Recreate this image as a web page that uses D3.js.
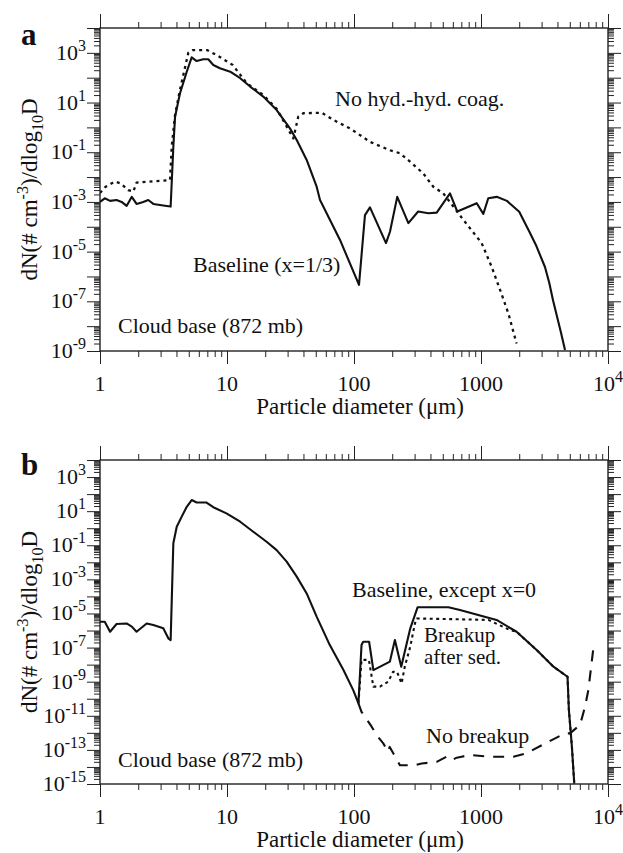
<!DOCTYPE html>
<html><head><meta charset="utf-8">
<script src="https://cdn.jsdelivr.net/npm/d3@7"></script>
<style>
html,body{margin:0;padding:0;background:#fff;}
svg{display:block;}
text{font-family:"Liberation Serif","Times New Roman",serif;fill:#111;}
</style></head>
<body>
<svg id="chart" width="623" height="853"></svg>
<script>
// ---------- DATA ----------
// x tick labels (decades)
const xTickValues = [1, 10, 100, 1000, 10000];
const xTickLabels = ["1", "10", "100", "1000", "10^4"];

// Panel a: y labelled exponents
const aYLabelExps = [-9, -7, -5, -3, -1, 1, 3];
// Panel b: y labelled exponents
const bYLabelExps = [-15, -13, -11, -9, -7, -5, -3, -1, 1, 3];

// Panel a, Baseline (x=1/3) — solid
const aBaseD = [1, 1.09, 1.2, 1.35, 1.48, 1.62, 1.78, 1.94, 2.19, 2.4, 2.63, 3.35, 3.6, 3.78, 3.9, 4.26, 4.82, 5.27, 5.77, 6.5, 7.12, 7.8, 8.8, 10.6, 12.7, 15.2, 19.3, 24.6, 31.3, 35.4, 42.4, 50.8, 54, 77.6, 109.5, 122, 133.6, 178.6, 192, 219, 268, 320, 385, 448, 570, 651, 925, 1043, 1141, 1330, 1600, 2000, 2432, 2700, 3190, 3450, 3690, 4266, 4587];
const aBaseN = [1.0e-3, 1.4e-3, 1.1e-3, 1.2e-3, 1.0e-3, 6.9e-4, 1.6e-3, 8.3e-4, 1.0e-3, 1.2e-3, 8.3e-4, 6.9e-4, 6.5e-4, 0.166, 2.7, 23, 174, 660, 468, 550, 550, 324, 240, 174, 95, 44, 17.4, 5.0, 0.91, 0.31, 0.049, 4.1e-3, 1.2e-3, 2.95e-5, 4.6e-7, 2.95e-4, 6.0e-4, 2.2e-5, 6.3e-5, 1.6e-3, 1.4e-4, 4.1e-4, 3.5e-4, 3.7e-4, 2.2e-3, 4.1e-4, 8.9e-4, 3.3e-4, 1.4e-3, 1.6e-3, 1.1e-3, 4.0e-4, 5.6e-5, 1.9e-5, 2.4e-6, 5.5e-7, 1.1e-7, 5.4e-9, 1.1e-9];

// Panel a, No hyd.-hyd. coag. — dotted
const aNoCoagD = [1, 1.1, 1.31, 1.45, 1.67, 1.83, 1.94, 3.56, 3.67, 3.9, 4.26, 4.96, 5.4, 6.96, 8.3, 11.1, 14.3, 19.3, 24.6, 33.3, 36.4, 39.9, 55.7, 68.7, 93, 134, 192, 230, 276, 351, 421, 505, 606, 726, 1012, 1211, 1413, 1641, 1905];
const aNoCoagN = [2.3e-3, 4.0e-3, 6.6e-3, 5.6e-3, 3.0e-3, 2.6e-3, 6.0e-3, 7.6e-3, 0.166, 3.2, 32, 1000, 1290, 1290, 810, 324, 60, 20, 5.6, 0.36, 2.7, 3.7, 3.9, 2.0, 0.91, 0.26, 0.12, 0.091, 0.042, 0.014, 4.1e-3, 2.2e-3, 6.5e-4, 1.9e-4, 2.2e-5, 2.5e-6, 2.9e-7, 3.3e-8, 2.0e-9];

// Panel b, Baseline, except x=0 — solid
const bBaseD = [1, 1.09, 1.2, 1.35, 1.62, 1.78, 1.94, 2.33, 2.63, 3.15, 3.45, 3.6, 3.78, 4.02, 4.4, 4.82, 5.27, 5.77, 6.9, 7.8, 9.9, 12.7, 16.1, 20.5, 24.6, 29.5, 35.4, 42.4, 50.8, 64.5, 82.6, 98.6, 108.4, 114.6, 118.1, 131.5, 142.1, 191.6, 209.9, 235.5, 277.5, 316.6, 553.7, 683, 1326, 1905, 2743, 3719, 4800, 4921, 5196, 5424];
const bBaseN = [3.3e-6, 3.3e-6, 8.5e-7, 2.4e-6, 2.6e-6, 1.7e-6, 8.5e-7, 2.6e-6, 2.1e-6, 1.35e-6, 3.5e-7, 2.75e-7, 0.13, 1.23, 4.8, 18, 45, 32, 32, 17, 7.4, 2.4, 0.62, 0.16, 0.052, 0.011, 1.45e-3, 1.5e-4, 6.5e-6, 1.4e-7, 4.8e-9, 3.2e-10, 5.4e-11, 1.4e-7, 2.2e-7, 2.2e-7, 4.8e-9, 1.5e-8, 2.75e-7, 7.6e-9, 1.35e-6, 2.3e-5, 2.3e-5, 1.6e-5, 4.2e-6, 8.5e-7, 7.2e-8, 7.6e-9, 1.95e-9, 2.2e-11, 1.55e-13, 1.05e-15];

// Panel b, Breakup after sed. — dotted
const bSedD = [108.4, 114.6, 131, 142, 160, 186, 203, 218, 237, 251, 277, 302, 312, 1141, 1687, 1905, 2743, 3719, 4800, 4921, 5196, 5424];
const bSedN = [5.4e-11, 1.9e-8, 1.9e-8, 5.1e-10, 5.1e-10, 1.0e-9, 3.8e-9, 3.8e-9, 7.9e-10, 7.6e-9, 1.1e-7, 2.6e-6, 5.1e-6, 4.2e-6, 1.07e-6, 8.5e-7, 7.2e-8, 7.6e-9, 1.95e-9, 2.2e-11, 1.55e-13, 1.05e-15];

// Panel b, No breakup — dashed
const bNoBreakD = [108.4, 114.6, 124.3, 137.7, 150.7, 170, 186, 191, 230, 302, 341, 448, 537, 588, 644, 704, 819, 1177, 1796, 2287, 3388, 4585, 5016, 6024, 6591, 7000, 7670];
const bNoBreakN = [5.4e-11, 1.7e-11, 7.1e-12, 2.3e-12, 7.4e-13, 2.4e-13, 7.8e-14, 1.5e-13, 1.26e-14, 1.26e-14, 1.6e-14, 2.0e-14, 4.0e-14, 2.5e-14, 3.5e-14, 4.0e-14, 5.0e-14, 4.0e-14, 4.0e-14, 6.3e-14, 3.0e-13, 9.3e-13, 9.3e-13, 2.9e-12, 3.4e-11, 3.2e-10, 9.1e-8];

// ---------- DRAW ----------
const svg = d3.select("#chart");
const X0 = 100, X1 = 608;

const panels = [
  { letter: "a", top: 28, bottom: 351, yMin: 1e-9, yMax: 1e4, labelExps: aYLabelExps,
    series: [
      { d: aNoCoagD, n: aNoCoagN, dash: "3,4", w: 2.3 },
      { d: aBaseD, n: aBaseN, dash: null, w: 2.1 }
    ],
    notes: [
      { t: ["No hyd.-hyd. coag."], x: 335, y: 106, fs: 22 },
      { t: ["Baseline (x=1/3)"], x: 193, y: 272, fs: 22 },
      { t: ["Cloud base (872 mb)"], x: 118, y: 333, fs: 22 }
    ] },
  { letter: "b", top: 460, bottom: 784, yMin: 1e-15, yMax: 1e4, labelExps: bYLabelExps,
    series: [
      { d: bNoBreakD, n: bNoBreakN, dash: "11,9", w: 2.1 },
      { d: bSedD, n: bSedN, dash: "3,3.5", w: 2.1 },
      { d: bBaseD, n: bBaseN, dash: null, w: 2.1 }
    ],
    notes: [
      { t: ["Baseline, except x=0"], x: 352, y: 597, fs: 22 },
      { t: ["Breakup"], x: 424, y: 642, fs: 21 },
      { t: ["after sed."], x: 424, y: 664, fs: 21 },
      { t: ["No breakup"], x: 426, y: 743, fs: 22 },
      { t: ["Cloud base (872 mb)"], x: 118, y: 767, fs: 22 }
    ] }
];

function minorTicks(lo, hi) {
  const out = [];
  for (let e = Math.round(Math.log10(lo)); e < Math.round(Math.log10(hi)); e++) {
    for (let k = 2; k <= 9; k++) out.push(k * Math.pow(10, e));
  }
  return out;
}
function majorTicks(lo, hi) {
  const out = [];
  for (let e = Math.round(Math.log10(lo)); e <= Math.round(Math.log10(hi)); e++) out.push(Math.pow(10, e));
  return out;
}

panels.forEach((p, pi) => {
  const g = svg.append("g");
  const x = d3.scaleLog().domain([1, 1e4]).range([X0, X1]);
  const y = d3.scaleLog().domain([p.yMin, p.yMax]).range([p.bottom, p.top]);

  const xMinor = minorTicks(1, 1e4), xMajor = majorTicks(1, 1e4);
  const yMinor = minorTicks(p.yMin, p.yMax), yMajor = majorTicks(p.yMin, p.yMax);

  function addAxis(axis, transform) {
    const a = g.append("g").attr("transform", transform).call(axis);
    a.select(".domain").remove();
    a.selectAll("line").attr("stroke", "#222").attr("stroke-width", 1);
    a.selectAll("text").remove();
    return a;
  }
  addAxis(d3.axisBottom(x).tickValues(xMinor).tickSize(6).tickFormat(""), `translate(0,${p.bottom})`);
  addAxis(d3.axisBottom(x).tickValues(xMajor).tickSize(13).tickFormat(""), `translate(0,${p.bottom})`);
  addAxis(d3.axisTop(x).tickValues(xMinor).tickSize(6).tickFormat(""), `translate(0,${p.top})`);
  addAxis(d3.axisTop(x).tickValues(xMajor).tickSize(14).tickFormat(""), `translate(0,${p.top})`);
  addAxis(d3.axisLeft(y).tickValues(yMinor).tickSize(6).tickFormat(""), `translate(${X0},0)`);
  addAxis(d3.axisLeft(y).tickValues(yMajor).tickSize(13).tickFormat(""), `translate(${X0},0)`);
  addAxis(d3.axisRight(y).tickValues(yMinor).tickSize(6).tickFormat(""), `translate(${X1},0)`);
  addAxis(d3.axisRight(y).tickValues(yMajor).tickSize(13).tickFormat(""), `translate(${X1},0)`);

  g.append("rect").attr("x", X0).attr("y", p.top).attr("width", X1 - X0).attr("height", p.bottom - p.top)
    .attr("fill", "none").attr("stroke", "#222").attr("stroke-width", 1.4);

  xTickValues.forEach((v, i) => {
    const lab = xTickLabels[i];
    const t = g.append("text").attr("x", x(v)).attr("y", p.bottom + 40)
      .attr("text-anchor", "middle").attr("font-size", 22);
    if (lab.indexOf("^") >= 0) {
      const [b, e] = lab.split("^");
      t.append("tspan").text(b);
      t.append("tspan").attr("dy", -9).attr("font-size", 16).text(e);
    } else t.text(lab);
  });

  p.labelExps.forEach(e => {
    const t = g.append("text").attr("x", 86).attr("y", y(Math.pow(10, e)) + 7)
      .attr("text-anchor", "end").attr("font-size", 22);
    t.append("tspan").text("10");
    t.append("tspan").attr("dy", -9).attr("font-size", 16).text(e < 0 ? "-" + Math.abs(e) : String(e));
  });

  g.append("text").attr("x", (X0 + X1) / 2 + 6).attr("y", p.bottom + 63)
    .attr("text-anchor", "middle").attr("font-size", 23).text("Particle diameter (\u03bcm)");

  const yc = (p.top + p.bottom) / 2;
  const yt = g.append("text").attr("transform", `translate(37,${yc}) rotate(-90)`)
    .attr("text-anchor", "middle").attr("font-size", 23);
  yt.append("tspan").text("dN(# cm");
  yt.append("tspan").attr("dy", -9).attr("font-size", 16).text("-3");
  yt.append("tspan").attr("dy", 9).text(")/dlog");
  yt.append("tspan").attr("dy", 6).attr("font-size", 16).text("10");
  yt.append("tspan").attr("dy", -6).text("D");

  g.append("text").attr("x", 21).attr("y", p.top + (pi === 0 ? 17 : 15))
    .attr("font-family", "'Liberation Sans', Arial, sans-serif").attr("font-weight", "bold")
    .attr("font-size", 31).text(p.letter);

  const cid = "clip" + pi;
  svg.append("clipPath").attr("id", cid).append("rect")
    .attr("x", X0).attr("y", p.top).attr("width", X1 - X0).attr("height", p.bottom - p.top + 1);

  const line = d3.line().x(d => x(d[0])).y(d => y(d[1]));
  p.series.forEach(s => {
    const pts = s.d.map((dv, i) => [dv, s.n[i]]);
    g.append("path").attr("clip-path", `url(#${cid})`).attr("d", line(pts))
      .attr("fill", "none").attr("stroke", "#111").attr("stroke-width", s.w)
      .attr("stroke-linejoin", "round")
      .attr("stroke-dasharray", s.dash);
  });

  p.notes.forEach(nt => {
    g.append("text").attr("x", nt.x).attr("y", nt.y).attr("font-size", nt.fs).text(nt.t[0]);
  });
});
</script>
</body></html>
